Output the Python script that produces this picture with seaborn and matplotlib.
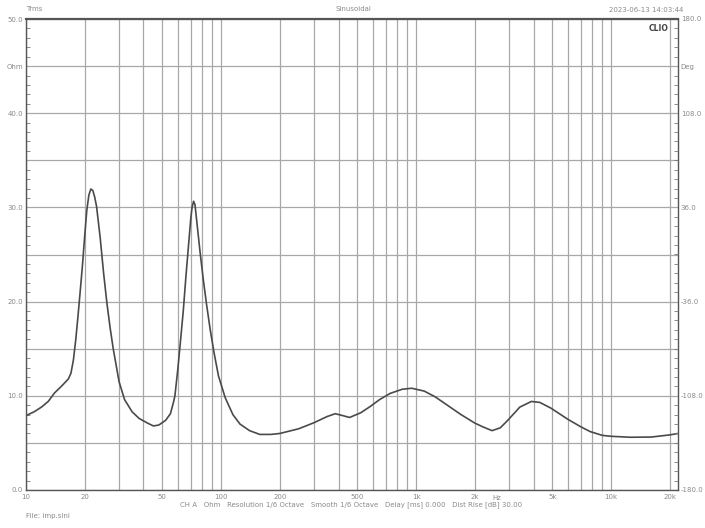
import numpy as np
import pandas as pd
import matplotlib
matplotlib.use('Agg')
import matplotlib.pyplot as plt
from matplotlib.ticker import FixedLocator, MultipleLocator
import seaborn as sns

# impedance curve
freq = [10, 11, 12, 13, 14, 15, 15.5, 16, 16.5, 17, 17.5, 18, 18.5, 19, 19.5,
        20, 20.5, 21, 21.5, 22, 22.5, 23, 24, 25, 26, 27, 28, 30, 32, 35, 38,
        42, 45, 48, 52, 55, 57, 58, 60, 62, 64, 66, 68, 70, 71, 72.3, 73.5, 75,
        78, 81, 84, 88, 92, 97, 105, 115, 125, 140, 158, 180, 200, 250, 300, 350,
        385, 420, 456, 520, 580, 650, 735, 850, 950, 1100, 1250, 1400, 1700,
        2000, 2200, 2450, 2700, 2950, 3400, 3900, 4300, 4900, 6000, 7000, 7800,
        9000, 10000, 12500, 16000, 20000, 22000]
ohm = [7.9, 8.3, 8.8, 9.4, 10.3, 10.9, 11.2, 11.5, 11.8, 12.4, 13.8, 16.0, 18.6,
       21.3, 24.0, 27.0, 29.7, 31.3, 31.95, 31.8, 31.1, 30.1, 26.8, 23.0, 19.8,
       17.2, 15.0, 11.5, 9.6, 8.3, 7.6, 7.1, 6.8, 6.9, 7.4, 8.1, 9.3, 10.0,
       12.8, 15.9, 19.0, 22.6, 25.8, 28.9, 30.0, 30.65, 30.3, 28.6, 25.3, 22.4,
       19.9, 17.0, 14.6, 12.1, 9.8, 8.0, 7.0, 6.3, 5.9, 5.9, 6.0, 6.5, 7.15,
       7.8, 8.1, 7.9, 7.7, 8.2, 8.85, 9.6, 10.25, 10.7, 10.8, 10.5, 9.9, 9.2,
       8.0, 7.1, 6.7, 6.3, 6.6, 7.4, 8.8, 9.4, 9.3, 8.7, 7.5, 6.7, 6.2, 5.8,
       5.7, 5.6, 5.62, 5.85, 6.0]

x_ticks = [10, 20, 50, 100, 200, 500, 1000, 2000, 5000, 10000, 20000]
x_labels = ['10', '20', '50', '100', '200', '500', '1k', '2k', '5k', '10k', '20k']
y_ticks = [0, 5, 10, 15, 20, 25, 30, 35, 40, 45, 50]
y_labels = ['0.0', '', '10.0', '', '20.0', '', '30.0', '', '40.0', 'Ohm', '50.0']
deg_ticks = [-180, -108, -36, 36, 108, 144, 180]
deg_labels = ['-180.0', '-108.0', '-36.0', '36.0', '108.0', 'Deg', '180.0']

df = pd.DataFrame({'freq': freq, 'ohm': ohm})

sns.set_style('white')
txt = '#8a8a8a'
grid_c = '#a8a8a8'

fig = plt.figure(figsize=(7.05, 5.28), dpi=100)
ax = fig.add_axes([26 / 705, 1 - 490 / 528, (678 - 26) / 705, (490 - 19) / 528])

sns.lineplot(data=df, x='freq', y='ohm', ax=ax, color='#4a4a4a', linewidth=1.2)

ax.set_xscale('log')
ax.set_xlim(10, 22000)
ax.set_ylim(0, 50)

grid_x = [m * 10 ** d for d in range(1, 4) for m in range(1, 10)] + [10000, 20000]
ax.xaxis.set_major_locator(FixedLocator(grid_x))
ax.xaxis.set_minor_locator(FixedLocator([]))
ax.set_xticklabels([x_labels[x_ticks.index(g)] if g in x_ticks else '' for g in grid_x])
ax.set_yticks(y_ticks)
ax.set_yticklabels(y_labels)
ax.yaxis.set_minor_locator(MultipleLocator(1))
ax.grid(True, which='major', color=grid_c, linewidth=0.9)
ax.tick_params(axis='x', which='both', length=0, labelsize=5, labelcolor=txt, pad=3)
ax.tick_params(axis='y', which='major', length=0, labelsize=5, labelcolor=txt, pad=2)
ax.tick_params(axis='y', which='minor', direction='in', length=3, color='#777777')
ax.set_xlabel('')
ax.set_ylabel('')
for s in ax.spines.values():
    s.set_color('#555555')
    s.set_linewidth(1.0)
ax.spines['top'].set_linewidth(1.6)

ax2 = ax.twinx()
ax2.set_ylim(-180, 180)
ax2.set_yticks(deg_ticks)
ax2.set_yticklabels(deg_labels)
ax2.yaxis.set_minor_locator(MultipleLocator(7.2))
ax2.tick_params(axis='y', which='major', length=0, labelsize=5, labelcolor=txt, pad=2)
ax2.tick_params(axis='y', which='minor', direction='in', length=3, color='#777777')
ax2.grid(False)
for s in ax2.spines.values():
    s.set_visible(False)

ax.text(2600, -0.011, 'Hz', transform=ax.get_xaxis_transform(), ha='center', va='top',
        fontsize=5, color=txt)
ax.text(0.985, 0.99, 'CLIO', transform=ax.transAxes, ha='right', va='top',
        fontsize=5.5, fontweight='bold', color='#444444')

fig.text(26 / 705, 1 - 9 / 528, 'Trms', fontsize=5, color=txt, va='center')
fig.text(353 / 705, 1 - 9 / 528, 'Sinusoidal', fontsize=5, color=txt, ha='center', va='center')
fig.text(683 / 705, 1 - 10 / 528, '2023-06-13 14:03:44', fontsize=5, color=txt,
         ha='right', va='center')
fig.text(351 / 705, 1 - 505 / 528,
         'CH A   Ohm   Resolution 1/6 Octave   Smooth 1/6 Octave   Delay [ms] 0.000   Dist Rise [dB] 30.00',
         fontsize=5, color=txt, ha='center', va='center')
fig.text(26 / 705, 1 - 516 / 528, 'File: imp.sini', fontsize=5, color=txt, va='center')

fig.savefig('out.png', dpi=100)
